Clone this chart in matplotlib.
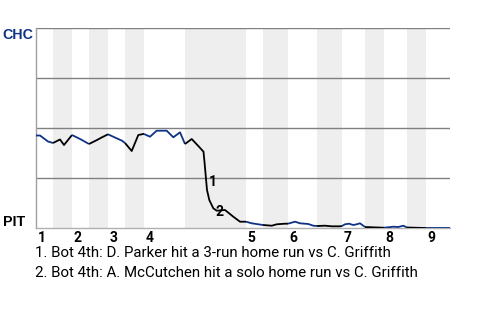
import matplotlib
matplotlib.use("Agg")
import matplotlib.pyplot as plt
import numpy as np

CHC_BLUE = "#0e3386"
GRID_GREY = "#808080"
SHADE = "#eeeeee"

# game progress along the x axis (stretched play index) and CHC win probability
play_pos = [0, 4, 12, 17, 24, 28, 36, 45, 53, 61, 66, 72, 80, 86, 89,
            95.7, 102.3, 107.3, 108, 114, 120.7, 130.7, 137.3, 144, 149,
            155.7, 162.3, 167.5, 168.5, 171, 173.3, 177.3, 180.7, 189, 197.3, 204, 210,
            215.7, 222.3, 227, 235.7, 240.7, 249, 252,
            259, 264, 272.3, 277.3, 281, 289, 295.7, 304, 306,
            309, 313, 317.3, 320.7, 324, 329, 347.3, 348,
            352.3, 357.3, 362.3, 367.3, 371, 389, 390, 414]
chc_wp = [0.4625, 0.4625, 0.4325, 0.425, 0.4425, 0.415, 0.465, 0.4425, 0.42, 0.44, 0.4535, 0.4685,
          0.45, 0.4365, 0.425, 0.385, 0.465, 0.47, 0.47, 0.4565, 0.4865, 0.4865, 0.4535, 0.4785, 0.42,
          0.445, 0.41, 0.3815, 0.33, 0.19, 0.14, 0.0985, 0.0865, 0.09, 0.0565, 0.0315, 0.0315,
          0.0235, 0.0185, 0.015, 0.0115, 0.0185, 0.0215, 0.0215,
          0.0315, 0.0235, 0.02, 0.0115, 0.01, 0.0115, 0.0085, 0.0085, 0.01,
          0.0185, 0.0215, 0.015, 0.0185, 0.0235, 0.005, 0.0015, 0.0015,
          0.0035, 0.0065, 0.005, 0.0115, 0.0025, 0.0, 0.0, 0.0]

# start of each half inning (top 1st, bot 1st, ... top 9th) and end of game
half_start = [0, 17, 36, 53, 72, 89, 108, 149, 210, 227, 252, 281, 306, 329, 348, 371, 390, 414]
innings = ["1", "2", "3", "4", "5", "6", "7", "8", "9"]

event_pos = [171, 180.7]
event_wp = [0.19, 0.0865]
event_num = ["1", "2"]
event_offset = [(4, 5.8), (1.7, -1.0)]
event_text = ["1. Bot 4th: D. Parker hit a 3-run home run vs C. Griffith",
              "2. Bot 4th: A. McCutchen hit a solo home run vs C. Griffith"]

plt.rcParams['font.family'] = ['Roboto', 'DejaVu Sans']

fig = plt.figure(figsize=(4.8, 3.2), dpi=100)
ax = fig.add_axes([36/480, 92/320, 414/480, 200/320])

# shade the bottom halves
for i in range(1, len(half_start) - 1, 2):
    ax.axvspan(half_start[i], half_start[i+1], color=SHADE, lw=0, zorder=0)

for y in [0.25, 0.5, 0.75, 1.0]:
    ax.axhline(y, color=GRID_GREY, lw=1.0, zorder=1)

x = np.array(play_pos)
p = np.array(chc_wp)
for i in range(len(half_start) - 1):
    m = (x >= half_start[i]) & (x <= half_start[i+1])
    col = CHC_BLUE if i % 2 == 0 else "black"
    ax.plot(x[m], p[m], color=col, lw=1.3, zorder=3, solid_capstyle='butt')

for num, xp, yp, off in zip(event_num, event_pos, event_wp, event_offset):
    ax.annotate(num, xy=(xp, yp), xytext=off, textcoords='offset points',
                ha='center', va='center', fontsize=10, fontweight='bold', zorder=4)

for k, lab in enumerate(innings):
    ax.annotate(lab, xy=(half_start[2*k], 0), xytext=(1, -9.9), textcoords='offset points',
                ha='left', va='baseline', fontsize=10, fontweight='bold')

ax.set_xlim(0, 414)
ax.set_ylim(0, 1)
ax.set_xticks([])
ax.set_yticks([])
for s in ['top', 'right']:
    ax.spines[s].set_visible(False)
ax.spines['left'].set_color("#a0a0a0")
ax.spines['bottom'].set_color("#b0b0b0")
ax.spines['left'].set_linewidth(1.0)
ax.spines['bottom'].set_linewidth(1.0)

fig.text(2.7/480, (320-39)/320, "CHC", color=CHC_BLUE, fontsize=10.3, fontweight='bold',
         family=['Liberation Sans', 'DejaVu Sans'], va='baseline')
fig.text(2.7/480, (320-226)/320, "PIT", color="black", fontsize=10.3, fontweight='bold',
         family=['Liberation Sans', 'DejaVu Sans'], va='baseline')

fig.text(35/480, (320-257.3)/320, event_text[0], fontsize=10.8, va='baseline')
fig.text(35/480, (320-276.7)/320, event_text[1], fontsize=10.8, va='baseline')

fig.savefig("out.png", dpi=100)
